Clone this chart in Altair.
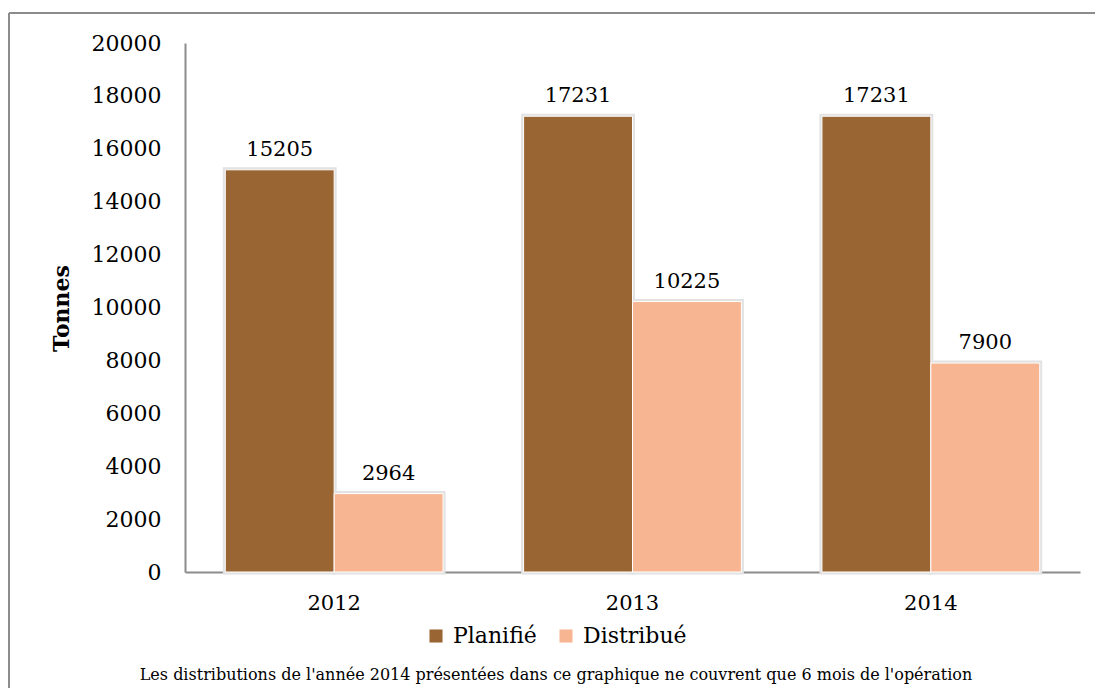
import altair as alt
import pandas as pd

years = ["2012", "2013", "2014"]
planifie = [15205, 17231, 17231]
distribue = [2964, 10225, 7900]
series = ["Planifié", "Distribué"]
colors = ["#996633", "#F8B592"]
y_ticks = list(range(0, 20001, 2000))
note = "Les distributions de l'année 2014 présentées dans ce graphique ne couvrent que 6 mois de l'opération"

rows = []
for i, yr in enumerate(years):
    rows.append({"year": yr, "serie": series[0], "value": planifie[i]})
    rows.append({"year": yr, "serie": series[1], "value": distribue[i]})
df = pd.DataFrame(rows)

FONT = "DejaVu Serif"

x = alt.X(
    "year:N", sort=years,
    scale=alt.Scale(paddingInner=0.27, paddingOuter=0.135),
    axis=alt.Axis(title=None, labelAngle=0, labelFontSize=21, labelFont=FONT,
                  labelColor="black", labelPadding=20, ticks=False,
                  domainColor="#8c8c8c", domainWidth=2),
)
xo = alt.XOffset("serie:N", sort=series, scale=alt.Scale(paddingInner=0, paddingOuter=0))
y = alt.Y(
    "value:Q", scale=alt.Scale(domain=[0, 20000]),
    axis=alt.Axis(values=y_ticks, format="d", title="Tonnes", titleFont=FONT,
                  titleFontSize=22, titleFontWeight="bold", titleColor="black",
                  titleX=-124, titleY=265, titleAngle=-90, titleAlign="center",
                  titleBaseline="middle",
                  labelFont=FONT, labelFontSize=22, labelColor="black",
                  labelPadding=24, ticks=False, grid=False,
                  domainColor="#8c8c8c", domainWidth=2),
)
color_scale = alt.Scale(domain=series, range=colors)

base = alt.Chart(df)

shadow = base.mark_bar(fill="#e2e2e2", stroke="#e2e2e2", strokeWidth=5).encode(
    x=x, xOffset=xo, y=y,
)

bars = base.mark_bar(stroke="white", strokeWidth=1).encode(
    x=x, xOffset=xo, y=y,
    color=alt.Color(
        "serie:N", scale=color_scale, sort=series,
        legend=alt.Legend(title=None, orient="none", direction="horizontal",
                          legendX=240, legendY=582, symbolType="square",
                          symbolSize=170, symbolStrokeWidth=0,
                          labelFont=FONT, labelFontSize=22, labelColor="black",
                          labelOffset=6, columnPadding=18),
    ),
)

labels = base.mark_text(font=FONT, fontSize=21, color="black", dy=-14,
                        baseline="alphabetic").encode(
    x=x, xOffset=xo, y=y, text=alt.Text("value:Q", format="d"),
)

one = alt.Data(values=[{}])
border_top = alt.Chart(one).mark_rule(color="#8c8c8c", strokeWidth=2).encode(
    x=alt.value(-176), x2=alt.value(930), y=alt.value(-30))
border_left = alt.Chart(one).mark_rule(color="#8c8c8c", strokeWidth=2).encode(
    x=alt.value(-176), y=alt.value(-30), y2=alt.value(680))
footer = alt.Chart(one).mark_text(font=FONT, fontSize=16, color="black",
                                   align="center", baseline="middle",
                                   text=note).encode(
    x=alt.value(371), y=alt.value(632))

chart = alt.layer(shadow, bars, labels, border_top, border_left, footer).properties(
    width=895, height=529,
    autosize=alt.AutoSizeParams(type="none"),
    padding={"left": 185, "top": 43, "right": 15, "bottom": 116},
    background="white",
).configure_view(stroke=None)

chart.save("out.html", embed_options={"renderer": "svg", "actions": False})
